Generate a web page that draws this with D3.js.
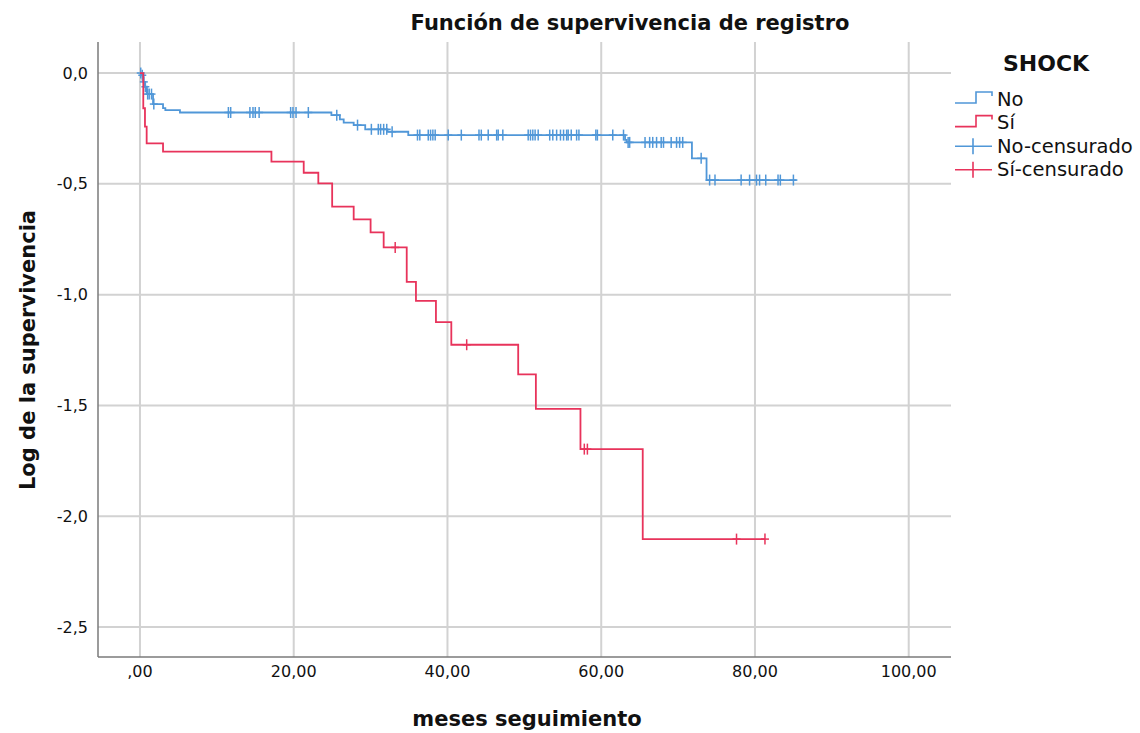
<!DOCTYPE html>
<html>
<head>
<meta charset="utf-8">
<script src="https://cdn.jsdelivr.net/npm/d3@7"></script>
<style>
  body { margin: 0; background: #fff; }
  text { font-family: "DejaVu Sans", sans-serif; fill: #111; }
</style>
</head>
<body>
<svg id="chart" width="1140" height="733"></svg>
<script>
// ticks
var xTicks = [0, 20, 40, 60, 80, 100];
var yTicks = [0, -0.5, -1.0, -1.5, -2.0, -2.5];

// SHOCK = No : step times and log survival
var noTimes = [0, 0.2, 0.45, 0.65, 0.9, 1.7, 3.0, 3.3, 5.2, 24.9, 26.0, 26.5, 27.8, 29.3, 32.2, 34.9, 63.1, 63.3, 71.8, 73.7];
var noLog   = [0, -0.01, -0.04, -0.062, -0.095, -0.14, -0.158, -0.167, -0.178, -0.19, -0.209, -0.224, -0.235, -0.254, -0.265, -0.28, -0.302, -0.313, -0.385, -0.483];
var noEnd = 85.4;
var noCensor = [0.1, 0.3, 0.5, 0.7, 1.0, 1.2, 1.5, 1.8, 11.5, 11.8, 14.3, 14.7, 15.0, 15.5, 19.6, 19.9, 20.3, 21.9,
  25.6, 28.3, 30.1, 31.0, 31.3, 31.7, 32.1, 32.8, 36.1, 36.4, 37.5, 37.8, 38.1, 38.4, 40.1, 41.8, 44.1, 44.4, 45.3,
  46.4, 46.6, 47.2, 50.5, 50.8, 51.1, 51.4, 51.8, 53.3, 53.7, 54.2, 54.7, 55.1, 55.5, 55.7, 56.1, 56.8, 57.1, 59.3,
  59.5, 61.5, 62.9, 63.5, 63.7, 65.7, 66.3, 66.7, 67.2, 67.8, 68.1, 69.1, 69.8, 70.2, 70.6, 73.0, 74.1, 74.8, 78.2,
  79.3, 80.2, 80.6, 81.4, 83.0, 83.3, 85.0];

// SHOCK = Sí
var siTimes = [0, 0.43, 0.65, 0.87, 3.0, 17.1, 21.3, 23.2, 25.0, 27.8, 30.0, 31.7, 34.7, 35.9, 38.5, 40.5, 49.2, 51.5, 57.3, 65.4];
var siLog   = [0, -0.159, -0.242, -0.317, -0.355, -0.40, -0.45, -0.498, -0.603, -0.66, -0.719, -0.787, -0.942, -1.028, -1.124, -1.226, -1.36, -1.515, -1.697, -2.103];
var siEnd = 81.3;
var siCensor = [33.2, 42.5, 57.8, 58.2, 77.6, 81.3];

var blue = "#5097d8";
var red = "#e8335b";

var svg = d3.select("#chart");
// plot frame (note: "top" is reserved on window, so use other names)
var pLeft = 98, pRight = 951, pTop = 42, pBottom = 657;

var x = d3.scaleLinear().domain([-5.46, 105.5]).range([pLeft, pRight]);
var y = d3.scaleLinear().domain([0.14, -2.635]).range([pTop, pBottom]);

// grid
svg.selectAll(".hgrid").data(yTicks).enter().append("line")
    .attr("x1", pLeft).attr("x2", pRight)
    .attr("y1", d => y(d)).attr("y2", d => y(d))
    .attr("stroke", "#d2d2d2").attr("stroke-width", 2);
svg.selectAll(".vgrid").data(xTicks).enter().append("line")
    .attr("x1", d => x(d)).attr("x2", d => x(d))
    .attr("y1", pTop).attr("y2", pBottom)
    .attr("stroke", "#d2d2d2").attr("stroke-width", 2);

// axis lines
svg.append("line").attr("x1", pLeft).attr("x2", pLeft).attr("y1", pTop).attr("y2", pBottom)
    .attr("stroke", "#7a7a7a").attr("stroke-width", 1.5);
svg.append("line").attr("x1", pLeft).attr("x2", pRight).attr("y1", pBottom).attr("y2", pBottom)
    .attr("stroke", "#7a7a7a").attr("stroke-width", 1.5);

// tick labels
var fmtX = d => d === 0 ? ",00" : d3.format(".2f")(d).replace(".", ",");
var fmtY = d => d3.format(".1f")(d).replace(".", ",").replace("\u2212", "-");
svg.selectAll(".xt").data(xTicks).enter().append("text")
    .attr("x", d => x(d)).attr("y", 677)
    .attr("text-anchor", "middle").attr("font-size", 16)
    .attr("fill", "#222")
    .text(fmtX);
svg.selectAll(".yt").data(yTicks).enter().append("text")
    .attr("x", 88).attr("y", d => y(d) + 5.5)
    .attr("text-anchor", "end").attr("font-size", 16)
    .text(fmtY);

// titles
svg.append("text").attr("x", 630).attr("y", 30).attr("text-anchor", "middle")
    .attr("font-size", 21).attr("font-weight", "bold")
    .text("Función de supervivencia de registro");
svg.append("text").attr("x", 527).attr("y", 726).attr("text-anchor", "middle")
    .attr("font-size", 21).attr("font-weight", "bold")
    .text("meses seguimiento");
svg.append("text").attr("transform", "translate(35,350) rotate(-90)").attr("text-anchor", "middle")
    .attr("font-size", 21).attr("font-weight", "bold")
    .text("Log de la supervivencia");

// survival curves
var line = d3.line().x(d => x(d[0])).y(d => y(d[1])).curve(d3.curveStepAfter);

function drawGroup(times, logs, end, censor, color) {
  var pts = times.map((t, i) => [t, logs[i]]);
  pts.push([end, logs[logs.length - 1]]);
  svg.append("path").datum(pts).attr("d", line)
      .attr("fill", "none").attr("stroke", color).attr("stroke-width", 1.8);

  var valueAt = t => logs[Math.max(0, d3.bisectRight(times, t) - 1)];
  var g = svg.append("g").attr("stroke", color).attr("stroke-width", 1.5);
  censor.forEach(function(t) {
    var cx = x(t), cy = y(valueAt(t));
    g.append("line").attr("x1", cx).attr("x2", cx).attr("y1", cy - 5.5).attr("y2", cy + 5.5);
    g.append("line").attr("x1", cx - 4).attr("x2", cx + 4).attr("y1", cy).attr("y2", cy);
  });
}
drawGroup(noTimes, noLog, noEnd, noCensor, blue);
drawGroup(siTimes, siLog, siEnd, siCensor, red);

// legend
svg.append("text").attr("x", 1046).attr("y", 71).attr("text-anchor", "middle")
    .attr("font-size", 22).attr("font-weight", "bold").text("SHOCK");

var legendItems = [
  {label: "No", color: blue, type: "step"},
  {label: "Sí", color: red, type: "step"},
  {label: "No-censurado", color: blue, type: "censor"},
  {label: "Sí-censurado", color: red, type: "censor"}
];
var lg = svg.selectAll(".leg").data(legendItems).enter().append("g")
    .attr("transform", (d, i) => "translate(0," + (99 + i * 23.6) + ")");
lg.each(function(d) {
  var s = d3.select(this);
  if (d.type === "step") {
    s.append("path").attr("d", "M955,4 H976 V-7 H992 V-3")
        .attr("fill", "none").attr("stroke", d.color).attr("stroke-width", 1.6);
  } else {
    s.append("line").attr("x1", 955).attr("x2", 992).attr("y1", 0).attr("y2", 0)
        .attr("stroke", d.color).attr("stroke-width", 1.6);
    s.append("line").attr("x1", 973).attr("x2", 973).attr("y1", -8).attr("y2", 8)
        .attr("stroke", d.color).attr("stroke-width", 1.6);
  }
  s.append("text").attr("x", 997).attr("y", 6.5).attr("font-size", 19.5).text(d.label);
});
</script>
</body>
</html>
